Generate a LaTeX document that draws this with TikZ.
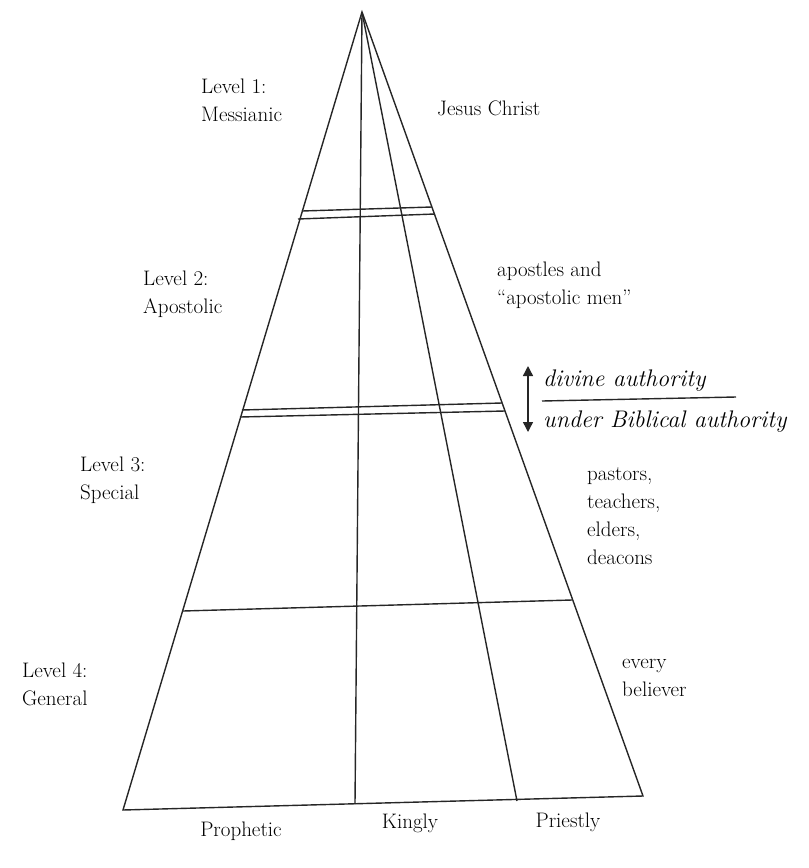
\documentclass[tikz,border=0pt]{standalone}
\usetikzlibrary{arrows.meta}
\begin{document}
\begin{tikzpicture}[x=1pt,y=-1pt,
  edge/.style={line width=1.4pt, draw=black!85},
  lbl/.style={inner sep=0pt, font=\fontsize{21}{28}\selectfont, align=left, anchor=north west},
  lbl1/.style={inner sep=0pt, font=\fontsize{21}{28}\selectfont, anchor=base west},
  lblc/.style={inner sep=0pt, font=\fontsize{21}{28}\selectfont, anchor=base},
  ilbl/.style={inner sep=0pt, font=\fontsize{24}{28}\selectfont\itshape, anchor=base west}]
\useasboundingbox (0,0) rectangle (809,868);
% frame points
\coordinate (apex) at (362,12);
\coordinate (bl) at (123,810);
\coordinate (br) at (643,796);
\coordinate (bm) at (355,804);
\coordinate (bp) at (517,801);
\coordinate (a1l) at (302,211); \coordinate (a1r) at (432,207);
\coordinate (b1l) at (298,219); \coordinate (b1r) at (435,214);
\coordinate (a2l) at (242,410); \coordinate (a2r) at (502,403);
\coordinate (b2l) at (240,417); \coordinate (b2r) at (505,411);
\coordinate (c3l) at (183,611); \coordinate (c3r) at (572,600);
\draw[edge] (apex) -- (bl) -- (br) -- cycle;
\draw[edge] (apex) -- (bm);
\draw[edge] (apex) -- (bp);
\draw[edge] (a1l) -- (a1r);
\draw[edge] (b1l) -- (b1r);
\draw[edge] (a2l) -- (a2r);
\draw[edge] (b2l) -- (b2r);
\draw[edge] (c3l) -- (c3r);
% labels
\node[lbl] (l1) at (201,78.5) {Level 1:\\Messianic};
\node[lbl1] (jc) at (437,115) {Jesus Christ};
\node[lbl] (l2) at (143,270.5) {Level 2:\\Apostolic};
\node[lbl] (ap) at (497,261.5) {apostles and\\``apostolic men''};
\node[lbl] (l3) at (80,456.5) {Level 3:\\Special};
\node[lbl] (ps) at (587,467) {pastors,\\teachers,\\elders,\\deacons};
\node[lbl] (l4) at (22,662.5) {Level 4:\\General};
\node[lbl] (eb) at (622,659) {every\\believer};
\node[lblc] (pr) at (241,836) {Prophetic};
\node[lblc] (ki) at (410,828) {Kingly};
\node[lblc] (pt) at (568,827) {Priestly};
% authority
\node[ilbl] (da) at (543,386) {divine authority};
\node[ilbl] (ub) at (543,427) {under Biblical authority};
\coordinate (aru) at (528,366);
\coordinate (ard) at (528,432);
\draw[edge, {Triangle[length=10pt,width=10pt]}-{Triangle[length=10pt,width=10pt]}] (aru) -- (ard);
\coordinate (sl) at (542,401);
\coordinate (sr) at (736,397);
\draw[edge] (sl) -- (sr);
\end{tikzpicture}
\end{document}
